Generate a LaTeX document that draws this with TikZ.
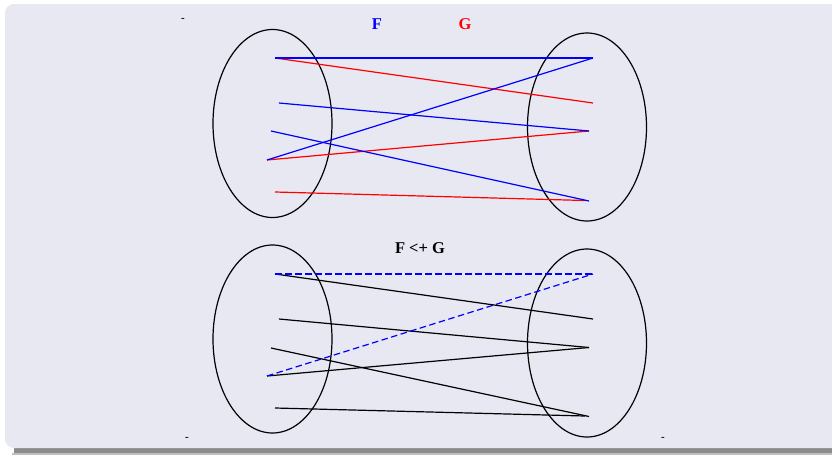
\documentclass[tikz,border=0pt]{standalone}
\usepackage{fontspec}
\setmainfont{Liberation Serif}
\usetikzlibrary{shapes.geometric}
\definecolor{panel}{RGB}{232,232,242}
\tikzset{
  set/.style={draw=black, ellipse, line width=1.2pt, minimum width=119pt, minimum height=188pt, inner sep=0pt},
  fmap/.style={draw=blue, line width=1.2pt},
  gmap/.style={draw=red, line width=1.2pt},
  hmap/.style={draw=black, line width=1.2pt},
  dmap/.style={draw=blue, line width=1.2pt, dash pattern=on 6.5pt off 3.5pt},
  ttl/.style={font=\bfseries\fontsize{16.5}{18}\selectfont, inner sep=0pt},
  tick/.style={font=\bfseries\fontsize{11}{12}\selectfont, inner sep=0pt}
}
\begin{document}
\begin{tikzpicture}[x=1pt,y=-1pt]
\useasboundingbox (0,0) rectangle (832,455);
\fill[white] (0,0) rectangle (832,455);
% shadow
\fill[black!45] (14,447) rectangle (840,454);
\fill[black!25] (12,453) rectangle (840,455);
\fill[panel, rounded corners=9pt] (5,4) rectangle (850,448);
% top sets
\node[set] (L1) at (272.5,123.5) {};
\node[set] (R1) at (587,127) {};
\coordinate (a1) at (275,58);
\coordinate (a2) at (279,103);
\coordinate (a3) at (271,131);
\coordinate (a4) at (267,160);
\coordinate (a5) at (275,192);
\coordinate (b1) at (593,58);
\coordinate (b2) at (593,103);
\coordinate (b3) at (589,131);
\coordinate (b4) at (589,201);
\coordinate (b4r) at (585,200.5);
\draw[gmap] (a1) -- (b2);
\draw[gmap] (a4) -- (b3);
\draw[gmap] (a5) -- (b4r);
\draw[fmap] (a1) -- (b1);
\draw[fmap] (a4) -- (b1);
\draw[fmap] (a2) -- (b3);
\draw[fmap] (a3) -- (b4);
\node[ttl, text=blue] (F) at (377,24) {F};
\node[ttl, text=red] (G) at (465,24) {G};
% bottom sets
\node[set] (L2) at (272.5,339) {};
\node[set] (R2) at (587,343) {};
\coordinate (c1) at (275,274);
\coordinate (c2) at (279,319);
\coordinate (c3) at (271,348);
\coordinate (c4) at (267,376);
\coordinate (c5) at (275,408);
\coordinate (d1) at (593,274);
\coordinate (d2) at (593,319);
\coordinate (d3) at (589,347.5);
\coordinate (d4) at (589,416.5);
\coordinate (d4r) at (585,416);
\draw[hmap] (c1) -- (d2);
\draw[hmap] (c2) -- (d3);
\draw[hmap] (c3) -- (d4);
\draw[hmap] (c4) -- (d3);
\draw[hmap] (c5) -- (d4r);
\draw[dmap] (c1) -- (d1);
\draw[dmap] (c4) -- (d1);
\node[ttl] (FG) at (420,248) {F <+ G};
% small marks
\node[tick] (m1) at (183,20) {-};
\node[tick] (m2) at (187,439) {-};
\node[tick] (m3) at (663,439) {-};
\end{tikzpicture}
\end{document}
